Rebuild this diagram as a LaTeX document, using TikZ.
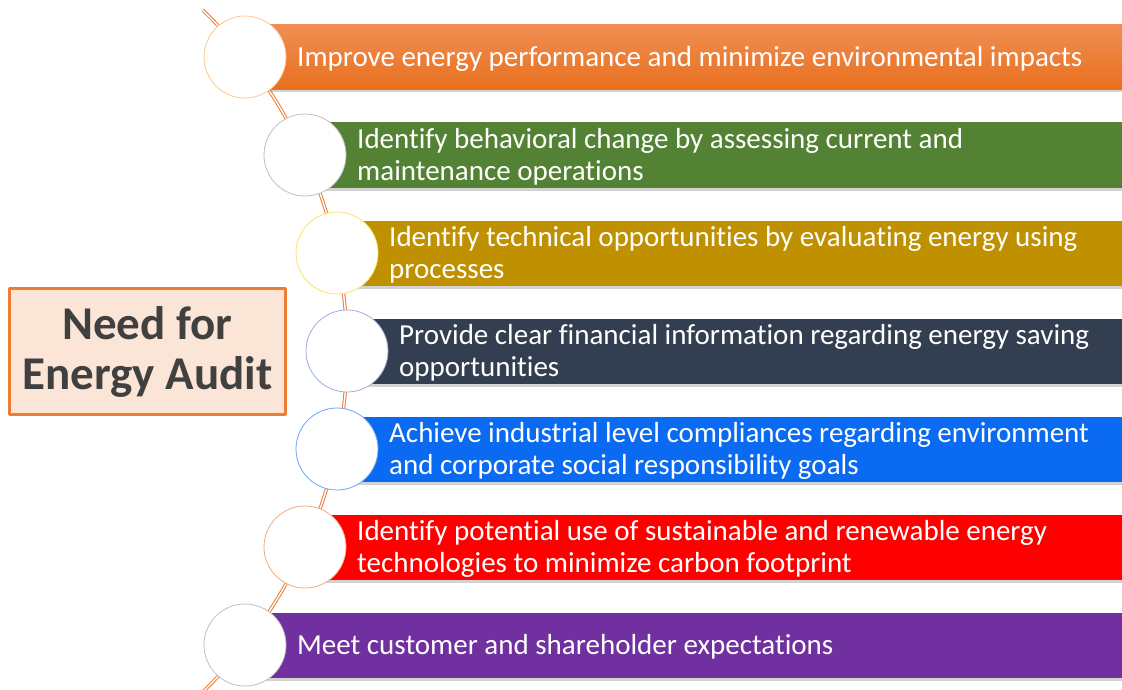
\documentclass[tikz,border=0pt]{standalone}
\usepackage{fontspec}
\setmainfont{Carlito}[Ligatures=NoCommon]
\usetikzlibrary{shadows}

\begin{document}
\begin{tikzpicture}[x=1pt, y=-1pt, line join=round,
		bar/.style={rectangle, anchor=west, inner sep=0pt, minimum height=65pt,
			drop shadow={shadow xshift=0pt, shadow yshift=-3pt, opacity=0.35}},
		bartext/.style={anchor=west, inner sep=0pt, text=white, align=left,
			font=\fontsize{29}{32}\selectfont},
		ring/.style={circle, fill=white, line width=0.8pt, minimum size=82pt, inner sep=0pt},
		spine/.style={draw=spineorange, line width=1pt, double=white, double distance=1.4pt}]
			% Define window bounds (pixel units, y downwards)
			\def\xmax{1122} \def\ymax{690}
			\useasboundingbox (0,0) rectangle (\xmax,\ymax);
			
			% Colors matching the original image
			\definecolor{spineorange}{HTML}{ED7D31}
			\definecolor{barorangetop}{HTML}{F08E52}
			\definecolor{barorange}{HTML}{E8701F}
			\definecolor{bargreen}{HTML}{548235}
			\definecolor{bargold}{HTML}{BF9000}
			\definecolor{barnavy}{HTML}{333F50}
			\definecolor{barblue}{HTML}{0A6AF2}
			\definecolor{barred}{HTML}{FF0000}
			\definecolor{barpurple}{HTML}{7030A0}
			\definecolor{boxfill}{HTML}{FBE5D6}
			\definecolor{boxtext}{HTML}{404040}
			
			% Curved spine behind the circles
			\coordinate (hub) at (-128,351);
			\draw[spine] (hub) ++(-45.9:475) coordinate (spinetop)
				arc[start angle=-45.9, end angle=49, radius=475] coordinate (spinebot);
			
			% Circle centres along the spine
			\coordinate (p1) at (245,57);
			\coordinate (p2) at (305,155);
			\coordinate (p3) at (337,253);
			\coordinate (p4) at (347,351);
			\coordinate (p5) at (337,449);
			\coordinate (p6) at (305,547);
			\coordinate (p7) at (245,645);
			
			% Coloured bars
			\node[bar, top color=barorangetop, bottom color=barorange, minimum width=877pt] (b1) at (p1) {};
			\node[bar, fill=bargreen, minimum width=817pt] (b2) at (p2) {};
			\node[bar, fill=bargold, minimum width=785pt] (b3) at (p3) {};
			\node[bar, fill=barnavy, minimum width=775pt] (b4) at (p4) {};
			\node[bar, fill=barblue, minimum width=785pt] (b5) at (p5) {};
			\node[bar, fill=barred, minimum width=817pt] (b6) at (p6) {};
			\node[bar, fill=barpurple, minimum width=877pt] (b7) at (p7) {};
			
			% Bar texts
			\node[bartext] (t1) at ([xshift=52pt, yshift=-2pt]b1.west) {Improve energy performance and minimize environmental impacts};
			\node[bartext] (t2) at ([xshift=52pt, yshift=-2pt]b2.west) {Identify behavioral change by assessing current and\\maintenance operations};
			\node[bartext] (t3) at ([xshift=52pt, yshift=-2pt]b3.west) {Identify technical opportunities by evaluating energy using\\processes};
			\node[bartext] (t4) at ([xshift=52pt, yshift=-2pt]b4.west) {Provide clear financial information regarding energy saving\\opportunities};
			\node[bartext] (t5) at ([xshift=52pt, yshift=-2pt]b5.west) {Achieve industrial level compliances regarding environment\\and corporate social responsibility goals};
			\node[bartext] (t6) at ([xshift=52pt, yshift=-2pt]b6.west) {Identify potential use of sustainable and renewable energy\\technologies to minimize carbon footprint};
			\node[bartext] (t7) at ([xshift=52pt, yshift=-2pt]b7.west) {Meet customer and shareholder expectations};
			
			% Circles on top of the spine
			\node[ring, draw=orange!45] (c1) at (p1) {};
			\node[ring, draw=black!25] (c2) at (p2) {};
			\node[ring, draw=yellow!70!orange!60] (c3) at (p3) {};
			\node[ring, draw=cyan!40!blue!40] (c4) at (p4) {};
			\node[ring, draw=barblue!60] (c5) at (p5) {};
			\node[ring, draw=spineorange!65] (c6) at (p6) {};
			\node[ring, draw=black!25] (c7) at (p7) {};
			
			% Title box
			\node[draw=spineorange, fill=boxfill, line width=3pt, minimum width=276pt, minimum height=126pt,
				text=boxtext, font=\bfseries\fontsize{47}{50}\selectfont, align=center] (title) at (147.5,351.5)
				{Need for\\Energy Audit};
		\end{tikzpicture}
\end{document}
